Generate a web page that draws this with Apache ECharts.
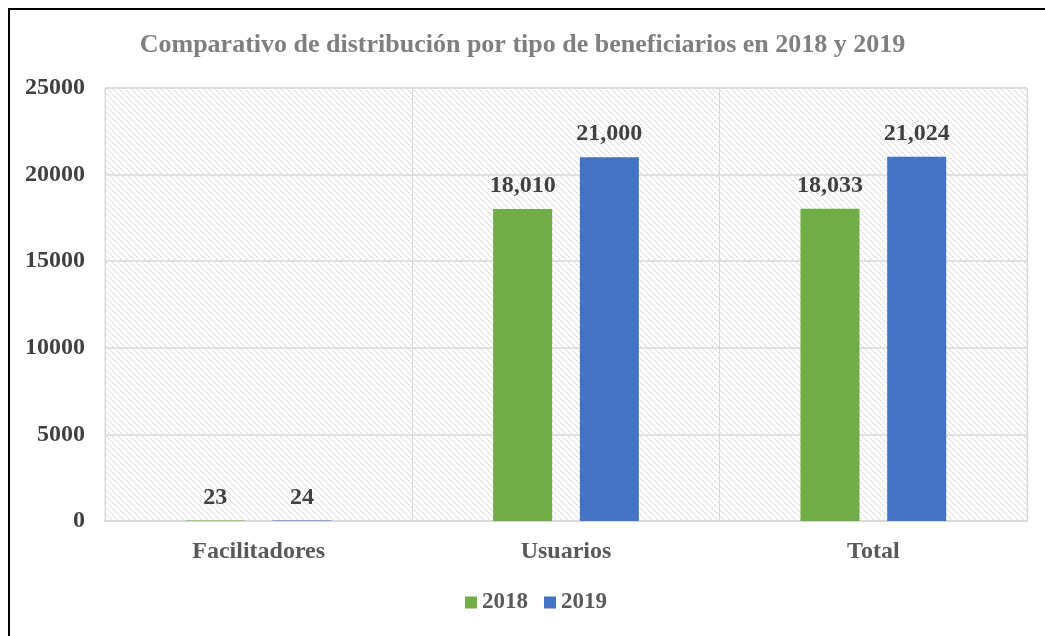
<!DOCTYPE html>
<html><head><meta charset="utf-8">
<script src="https://cdn.jsdelivr.net/npm/echarts@6/dist/echarts.min.js"></script>
<style>
html,body{margin:0;padding:0;background:#fff;}
#wrap{position:absolute;left:8px;top:8px;width:1045px;height:640px;border:2px solid #000;box-sizing:border-box;}
#c{position:absolute;left:0;top:0;width:1045px;height:636px;}
</style></head>
<body>
<div id="wrap"></div>
<div id="c"></div>
<script>
const categories = ['Facilitadores', 'Usuarios', 'Total'];
const values2018 = [23, 18010, 18033];
const values2019 = [24, 21000, 21024];
const yTicks = [0, 5000, 10000, 15000, 20000, 25000];

const pc = document.createElement('canvas');
pc.width = 6; pc.height = 6;
const ctx = pc.getContext('2d');
ctx.fillStyle = '#fff'; ctx.fillRect(0,0,6,6);
ctx.fillStyle = '#d4d4d4';
for (let i = 0; i < 6; i += 2) ctx.fillRect(i, i, 1.2, 1.2);
ctx.fillStyle = '#e6e6e6';
for (let i = 1; i < 6; i += 2) ctx.fillRect(i, i, 1, 1);

const chart = echarts.init(document.getElementById('c'));
const fmt = v => v.value.toLocaleString('en-US');
const labelStyle = {show:true, position:'top', distance:11, formatter: fmt,
  fontFamily:'Liberation Serif', fontWeight:'bold', fontSize:24, color:'#404040'};
chart.setOption({
  animation:false,
  title:{text:'Comparativo de distribución por tipo de beneficiarios en 2018 y 2019', left:'center', top:27,
    textStyle:{fontFamily:'Liberation Serif', fontWeight:'bold', fontSize:26, color:'#7f7f7f'}},
  legend:{bottom:17, left:460, itemWidth:12, itemHeight:12, itemGap:16, icon:'rect',
    textStyle:{fontFamily:'Liberation Serif', fontWeight:'bold', fontSize:23, color:'#595959'}},
  grid:{left:105, right:18, top:88, bottom:115, show:true, backgroundColor:{image:pc, repeat:'repeat'}, borderColor:'#d9d9d9', borderWidth:1},
  xAxis:{type:'category', data:categories,
    axisLine:{lineStyle:{color:'#d9d9d9', width:2}}, axisTick:{show:false},
    splitLine:{show:true, lineStyle:{color:'#d9d9d9', width:1}},
    axisLabel:{margin:19, fontFamily:'Liberation Serif', fontWeight:'bold', fontSize:24, color:'#595959'}},
  yAxis:{type:'value', min:yTicks[0], max:yTicks[yTicks.length-1], interval:5000,
    axisLine:{show:false}, axisTick:{show:false},
    splitLine:{lineStyle:{color:'#d9d9d9', width:1.5}},
    axisLabel:{margin:20, formatter: v => String(v), fontFamily:'Liberation Serif', fontWeight:'bold', fontSize:24, color:'#404040'}},
  series:[
    {name:'2018', type:'bar', data:values2018, barWidth:59, barGap:'47%', itemStyle:{color:'#70ad47'}, label:labelStyle},
    {name:'2019', type:'bar', data:values2019, barWidth:59, itemStyle:{color:'#4472c4'}, label:labelStyle}
  ]
});
</script>
</body></html>
